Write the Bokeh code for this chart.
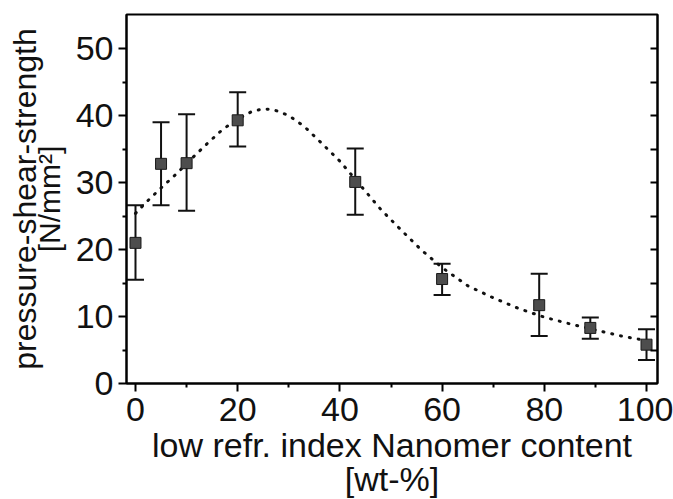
from bokeh.plotting import figure
from bokeh.models import Range1d, FixedTicker, LinearAxis, Whisker, TeeHead, ColumnDataSource, Title
from bokeh.embed import file_html
from bokeh.resources import INLINE

content_x = [0, 5, 10, 20, 43, 60, 79, 89, 100]
strength = [21.0, 32.8, 32.9, 39.3, 30.1, 15.6, 11.7, 8.3, 5.8]
err_upper = [26.6, 39.0, 40.2, 43.5, 35.1, 17.9, 16.4, 9.85, 8.1]
err_lower = [15.5, 26.6, 25.8, 35.4, 25.2, 13.2, 7.1, 6.7, 3.5]

# dotted fit curve
fit_x = [0, 2, 5, 8, 11, 14, 17, 20, 23, 25, 27, 30, 33, 36, 40, 44, 48, 52, 56, 60,
         65, 70, 75, 80, 85, 90, 95, 100]
fit_y = [25.4, 27.0, 29.2, 31.3, 33.6, 35.8, 37.9, 39.5, 40.7, 41.0, 40.9, 40.0, 38.4, 36.2,
         33.2, 29.6, 26.0, 22.9, 19.9, 17.3, 14.6, 12.8, 11.2, 9.9, 8.9, 8.0, 7.1, 6.4]

x_ticks = [0, 20, 40, 60, 80, 100]
x_minor = [10, 30, 50, 70, 90]
y_ticks = [0, 10, 20, 30, 40, 50]
y_minor = [5, 15, 25, 35, 45]
right_ticks = [5, 10, 15, 20, 25, 30, 35, 40, 45, 50]

x_title = "low refr. index Nanomer content"
x_unit = "[wt-%]"
y_title = "pressure-shear-strength"
y_unit = "[N/mm\u00b2]"

FONT = "Liberation Sans"
INK = "#111111"

p = figure(width=673, height=499,
           x_range=Range1d(-1.76, 102.15), y_range=Range1d(0, 55.1),
           output_backend="svg", toolbar_location=None,
           min_border_left=126, min_border_right=16, min_border_top=14, min_border_bottom=116)
p.grid.visible = False
p.outline_line_color = "black"
p.outline_line_width = 2
p.outline_line_alpha = 1.0
p.background_fill_color = "white"
p.border_fill_color = "white"

for ax, ticks, minor in ((p.xaxis[0], x_ticks, x_minor), (p.yaxis[0], y_ticks, y_minor)):
    ax.ticker = FixedTicker(ticks=ticks, minor_ticks=minor)
    ax.axis_line_width = 2
    ax.axis_line_color = "black"
    ax.major_tick_line_width = 2
    ax.major_tick_line_color = "black"
    ax.major_tick_out = 8
    ax.major_tick_in = 0
    ax.minor_tick_line_width = 2
    ax.minor_tick_line_color = "black"
    ax.minor_tick_out = 4
    ax.minor_tick_in = 0
    ax.major_label_text_font = FONT
    ax.major_label_text_font_size = "34px"
    ax.major_label_text_color = INK
p.xaxis[0].major_label_standoff = 6
p.yaxis[0].major_label_standoff = 5

ra = LinearAxis(ticker=FixedTicker(ticks=right_ticks),
                major_tick_in=7, major_tick_out=0, major_tick_line_width=2,
                major_label_overrides={t: "" for t in right_ticks},
                major_label_standoff=0,
                axis_line_width=2, minor_tick_line_color=None)
p.add_layout(ra, "right")

src = ColumnDataSource(dict(x=content_x, y=strength, upper=err_upper, lower=err_lower))

p.line(fit_x, fit_y, line_width=3, line_dash="1 8", line_cap="round", line_color=INK)

w = Whisker(source=src, base="x", upper="upper", lower="lower",
            line_width=2, line_color=INK, level="underlay",
            upper_head=TeeHead(size=17, line_width=2, line_color=INK),
            lower_head=TeeHead(size=17, line_width=2, line_color=INK))
p.add_layout(w)

p.scatter("x", "y", source=src, marker="square", size=11,
          fill_color="#4d4d4d", line_color="#1a1a1a", line_width=1)

# axis titles (first added sits next to the axis)
def title(text, offset, size, standoff):
    return Title(text=text, align="center", offset=offset, standoff=standoff,
                 vertical_align="bottom",
                 text_font=FONT, text_font_size=size, text_font_style="normal",
                 text_color=INK)

p.add_layout(title(x_title, 0, "34px", 0), "below")
p.add_layout(title(x_unit, -10, "34px", -12), "below")
p.add_layout(title(y_unit, 61, "30px", 13), "left")
p.add_layout(title(y_title, 8, "32px", -36), "left")

open("out.html", "w").write(file_html(p, INLINE))
